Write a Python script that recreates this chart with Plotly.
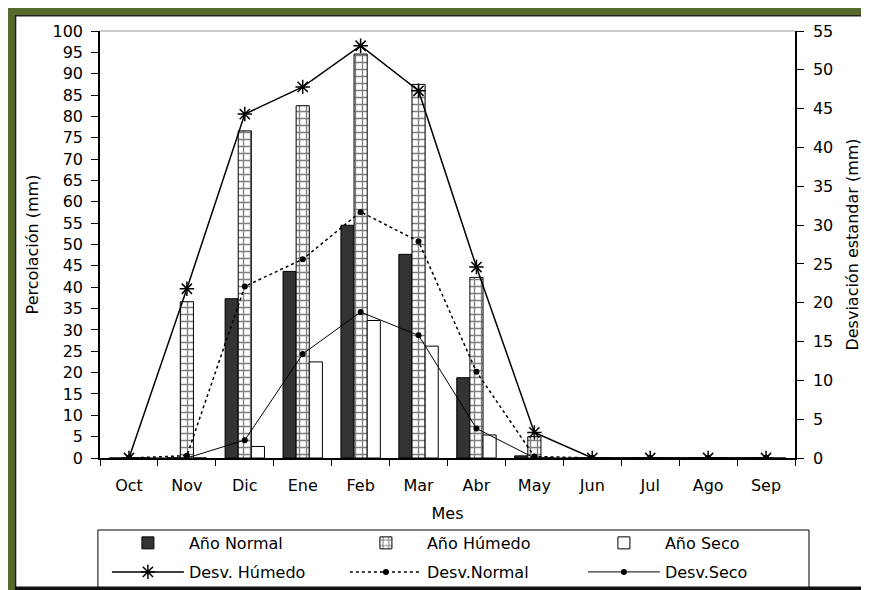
import plotly.graph_objects as go

meses = ['Oct', 'Nov', 'Dic', 'Ene', 'Feb', 'Mar', 'Abr', 'May', 'Jun', 'Jul', 'Ago', 'Sep']

# percolacion (mm)
ano_normal = [0, 0, 37.3, 43.7, 54.5, 47.7, 18.8, 0.5, 0, 0, 0, 0]
ano_humedo = [0, 36.6, 76.6, 82.5, 94.6, 87.5, 42.3, 5.0, 0, 0, 0, 0]
ano_seco = [0, 0, 2.7, 22.5, 32.2, 26.2, 5.4, 0, 0, 0, 0, 0]

# desviacion estandar (mm)
desv_humedo = [0, 21.8, 44.3, 47.8, 53.1, 47.3, 24.6, 3.3, 0, 0, 0, 0]
desv_normal = [0, 0.3, 22.1, 25.6, 31.7, 27.9, 11.1, 0.2, 0, 0, 0, 0]
desv_seco = [0, 0, 2.3, 13.4, 18.8, 15.8, 3.8, 0, 0, 0, 0, 0]

font = 'DejaVu Sans'
green = '#566a2c'

fig = go.Figure()

fig.add_trace(go.Bar(x=meses, y=ano_normal, name='Año Normal', legend='legend',
                     marker=dict(color='#333333', line=dict(color='black', width=1))))
fig.add_trace(go.Bar(x=meses, y=ano_humedo, name='Año Húmedo', legend='legend',
                     marker=dict(color='white', line=dict(color='black', width=1),
                                 pattern=dict(shape='+', size=7, solidity=0.35,
                                              fgcolor='black', bgcolor='white', fillmode='overlay'))))
fig.add_trace(go.Bar(x=meses, y=ano_seco, name='Año Seco', legend='legend',
                     marker=dict(color='white', line=dict(color='black', width=1))))

fig.add_trace(go.Scatter(x=meses, y=desv_humedo, name='Desv. Húmedo', yaxis='y2', legend='legend2',
                         mode='lines+markers', line=dict(color='black', width=1.5),
                         marker=dict(symbol='asterisk-open', size=12, color='black',
                                     line=dict(color='black', width=1.5))))
fig.add_trace(go.Scatter(x=meses, y=desv_normal, name='Desv.Normal', yaxis='y2', legend='legend2',
                         mode='lines+markers', line=dict(color='black', width=1.5, dash='dot'),
                         marker=dict(symbol='circle', size=6, color='black')))
fig.add_trace(go.Scatter(x=meses, y=desv_seco, name='Desv.Seco', yaxis='y2', legend='legend2',
                         mode='lines+markers', line=dict(color='black', width=1),
                         marker=dict(symbol='circle', size=6, color='black')))

leg = dict(orientation='h', x=-0.003, xanchor='left', yanchor='middle', entrywidth=142, itemwidth=72,
           indentation=9, font=dict(family=font, size=16), bgcolor='rgba(0,0,0,0)')

# la pagina deja 8px de margen, asi que la figura es 8px mas chica
fig.update_layout(
    width=861, height=582, autosize=False,
    margin=dict(l=92, r=74, t=23, b=132, autoexpand=False),
    paper_bgcolor='white', plot_bgcolor='white',
    font=dict(family=font, size=16, color='black'),
    barmode='group', bargap=0.32, bargroupgap=0,
    xaxis=dict(title=dict(text='Mes', standoff=14, font=dict(size=16)), range=[-0.5, 11.5],
               showline=True, linecolor='black', linewidth=1.5, ticks='outside', ticklen=6,
               tickcolor='black', tickson='boundaries', ticklabelstandoff=12, showgrid=False,
               zeroline=False),
    yaxis=dict(title=dict(text='Percolación (mm)', standoff=10, font=dict(size=16)), range=[0, 100],
               dtick=5, showline=True, linecolor='black', linewidth=1.5, ticks='outside', ticklen=7,
               tickcolor='black', ticklabelstandoff=5, showgrid=False, zeroline=False),
    yaxis2=dict(title=dict(text='Desviación estandar (mm)', standoff=14, font=dict(size=16)),
                range=[0, 55], dtick=5, overlaying='y', side='right', showline=True,
                linecolor='black', linewidth=1.5, ticks='outside', ticklen=7, tickcolor='black',
                ticklabelstandoff=6, showgrid=False, zeroline=False),
    legend=dict(leg, y=-0.199),
    legend2=dict(leg, y=-0.267),
    shapes=[
        # borde superior del area de grafico
        dict(type='line', xref='paper', yref='paper', x0=0, x1=1, y0=1, y1=1,
             line=dict(color='#999999', width=1)),
        # recuadro de la leyenda
        dict(type='rect', xref='paper', yref='paper', x0=-0.003, x1=1.0201, y0=-0.1686, y1=-0.3044,
             line=dict(color='black', width=1)),
        # marco verde
        dict(type='rect', xref='paper', yref='paper', x0=-0.1324, x1=-0.1223, y0=-0.31, y1=1.0539,
             fillcolor=green, line=dict(width=0), layer='above'),
        dict(type='rect', xref='paper', yref='paper', x0=-0.1324, x1=1.11, y0=1.0375, y1=1.0539,
             fillcolor=green, line=dict(width=0), layer='above'),
        dict(type='line', xref='paper', yref='paper', x0=-0.1215, x1=-0.1215, y0=-0.31, y1=1.0375,
             line=dict(color='#222222', width=1.5)),
        dict(type='line', xref='paper', yref='paper', x0=-0.1223, x1=1.11, y0=1.036, y1=1.036,
             line=dict(color='#222222', width=1.5)),
        dict(type='line', xref='paper', yref='paper', x0=-0.1223, x1=1.11, y0=-0.3058, y1=-0.3058,
             line=dict(color='#111111', width=4)),
    ],
)

fig.write_html("out.html")
